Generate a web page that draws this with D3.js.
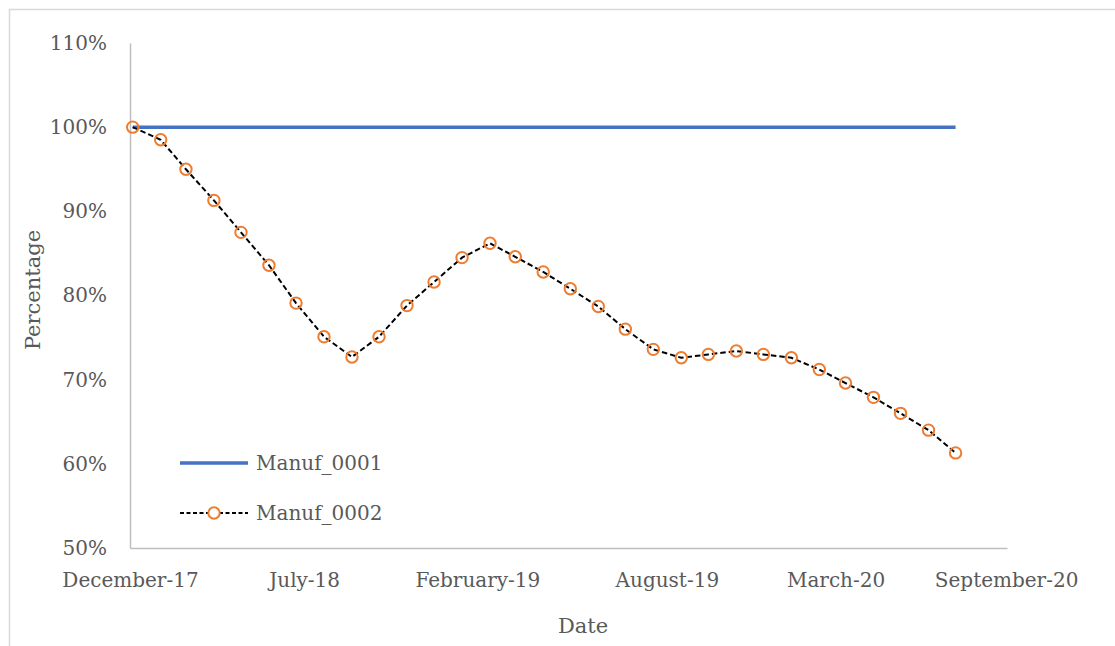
<!DOCTYPE html>
<html>
<head>
<meta charset="utf-8">
<script src="https://cdn.jsdelivr.net/npm/d3@7"></script>
<style>
  body { margin: 0; background: #fff; }
  text { font-family: "DejaVu Serif", serif; fill: #595959; }
</style>
</head>
<body>
<div id="canvas"></div>
<script>
// month-end observation dates
const dates = [
  "2017-12-31", "2018-01-31", "2018-02-28", "2018-03-31", "2018-04-30", "2018-05-31",
  "2018-06-30", "2018-07-31", "2018-08-31", "2018-09-30", "2018-10-31", "2018-11-30",
  "2018-12-31", "2019-01-31", "2019-02-28", "2019-03-31", "2019-04-30", "2019-05-31",
  "2019-06-30", "2019-07-31", "2019-08-31", "2019-09-30", "2019-10-31", "2019-11-30",
  "2019-12-31", "2020-01-31", "2020-02-29", "2020-03-31", "2020-04-30", "2020-05-31",
  "2020-06-30"
];

const manuf0001 = [
  1.00, 1.00, 1.00, 1.00, 1.00, 1.00, 1.00, 1.00, 1.00, 1.00, 1.00,
  1.00, 1.00, 1.00, 1.00, 1.00, 1.00, 1.00, 1.00, 1.00, 1.00,
  1.00, 1.00, 1.00, 1.00, 1.00, 1.00, 1.00, 1.00, 1.00, 1.00
];

const manuf0002 = [
  1.000, 0.985, 0.950, 0.913, 0.875, 0.836, 0.791, 0.751, 0.727, 0.751, 0.788,
  0.816, 0.845, 0.862, 0.846, 0.828, 0.808, 0.787, 0.760, 0.736, 0.726,
  0.730, 0.734, 0.730, 0.726, 0.712, 0.696, 0.679, 0.660, 0.640, 0.613
];

const seriesNames = ["Manuf_0001", "Manuf_0002"];

// x axis bounds and label positions
const xBounds = ["2017-12-28", "2020-08-26"];
const tickDates = ["2017-12-28", "2018-07-09", "2019-01-17", "2019-08-15", "2020-02-18", "2020-08-25"];
const tickLabels = ["December-17", "July-18", "February-19", "August-19", "March-20", "September-20"];
const yTicks = [0.5, 0.6, 0.7, 0.8, 0.9, 1.0, 1.1];

const width = 1115;
const height = 646;
const margin = { top: 43, left: 130, bottom: 98, right: 108 };
const iwidth = width - margin.left - margin.right;
const iheight = height - margin.top - margin.bottom;

const parse = d3.timeParse("%Y-%m-%d");

const svg = d3.select("#canvas").append("svg")
  .attr("width", width)
  .attr("height", height);

// chart border
svg.append("rect")
  .attr("x", 9.5).attr("y", 9.5)
  .attr("width", 1200).attr("height", 800)
  .attr("fill", "none")
  .attr("stroke", "#d9d9d9")
  .attr("stroke-width", 1.5);

const g = svg.append("g")
  .attr("transform", `translate(${margin.left},${margin.top})`);

const x = d3.scaleTime().domain(xBounds.map(parse)).range([0, iwidth]);
const y = d3.scaleLinear().domain([0.5, 1.1]).range([iheight, 0]);

const xAxis = g.append("g")
  .attr("transform", `translate(0,${iheight})`)
  .call(d3.axisBottom(x)
    .tickValues(tickDates.map(parse))
    .tickFormat((d, i) => tickLabels[i])
    .tickSize(0)
    .tickSizeOuter(0)
    .tickPadding(25));

const yAxis = g.append("g")
  .call(d3.axisLeft(y)
    .tickValues(yTicks)
    .tickFormat(d3.format(".0%"))
    .tickSize(0)
    .tickSizeOuter(0)
    .tickPadding(23));

[xAxis, yAxis].forEach(a => {
  a.select(".domain").attr("stroke", "#bfbfbf").attr("stroke-width", 1.5);
  a.selectAll("text")
    .attr("fill", "#595959")
    .style("font-family", "DejaVu Serif, serif")
    .style("font-size", "20px");
});

const rows1 = dates.map((d, i) => ({ date: parse(d), value: manuf0001[i] }));
const rows2 = dates.map((d, i) => ({ date: parse(d), value: manuf0002[i] }));

const line = d3.line()
  .x(d => x(d.date))
  .y(d => y(d.value));

g.append("path")
  .datum(rows1)
  .attr("fill", "none")
  .attr("stroke", "#4472C4")
  .attr("stroke-width", 3.5)
  .attr("d", line);

g.append("path")
  .datum(rows2)
  .attr("fill", "none")
  .attr("stroke", "#000")
  .attr("stroke-width", 2)
  .attr("stroke-dasharray", "5.5,3")
  .attr("d", line);

g.selectAll("circle.m2")
  .data(rows2)
  .enter()
  .append("circle")
  .attr("class", "m2")
  .attr("cx", d => x(d.date))
  .attr("cy", d => y(d.value))
  .attr("r", 5.7)
  .attr("fill", "none")
  .attr("stroke", "#ED7D31")
  .attr("stroke-width", 2);

// axis titles
svg.append("text")
  .attr("transform", "translate(40,290) rotate(-90)")
  .attr("text-anchor", "middle")
  .style("font-size", "21px")
  .text("Percentage");

svg.append("text")
  .attr("x", 583).attr("y", 633)
  .attr("text-anchor", "middle")
  .style("font-size", "21px")
  .text("Date");

// legend
const legend = svg.append("g").attr("transform", "translate(180,463)");

legend.append("line")
  .attr("x1", 0).attr("x2", 68).attr("y1", 0).attr("y2", 0)
  .attr("stroke", "#4472C4").attr("stroke-width", 3.5);

legend.append("line")
  .attr("x1", 0).attr("x2", 68).attr("y1", 50).attr("y2", 50)
  .attr("stroke", "#000").attr("stroke-width", 1.8)
  .attr("stroke-dasharray", "4,2.5");

legend.append("circle")
  .attr("cx", 34).attr("cy", 50).attr("r", 5.7)
  .attr("fill", "#fff")
  .attr("stroke", "#ED7D31").attr("stroke-width", 2);

legend.selectAll("text.lbl")
  .data(seriesNames)
  .enter()
  .append("text")
  .attr("class", "lbl")
  .attr("x", 76)
  .attr("y", (d, i) => i * 50)
  .attr("dy", "0.35em")
  .style("font-size", "20px")
  .text(d => d);
</script>
</body>
</html>
